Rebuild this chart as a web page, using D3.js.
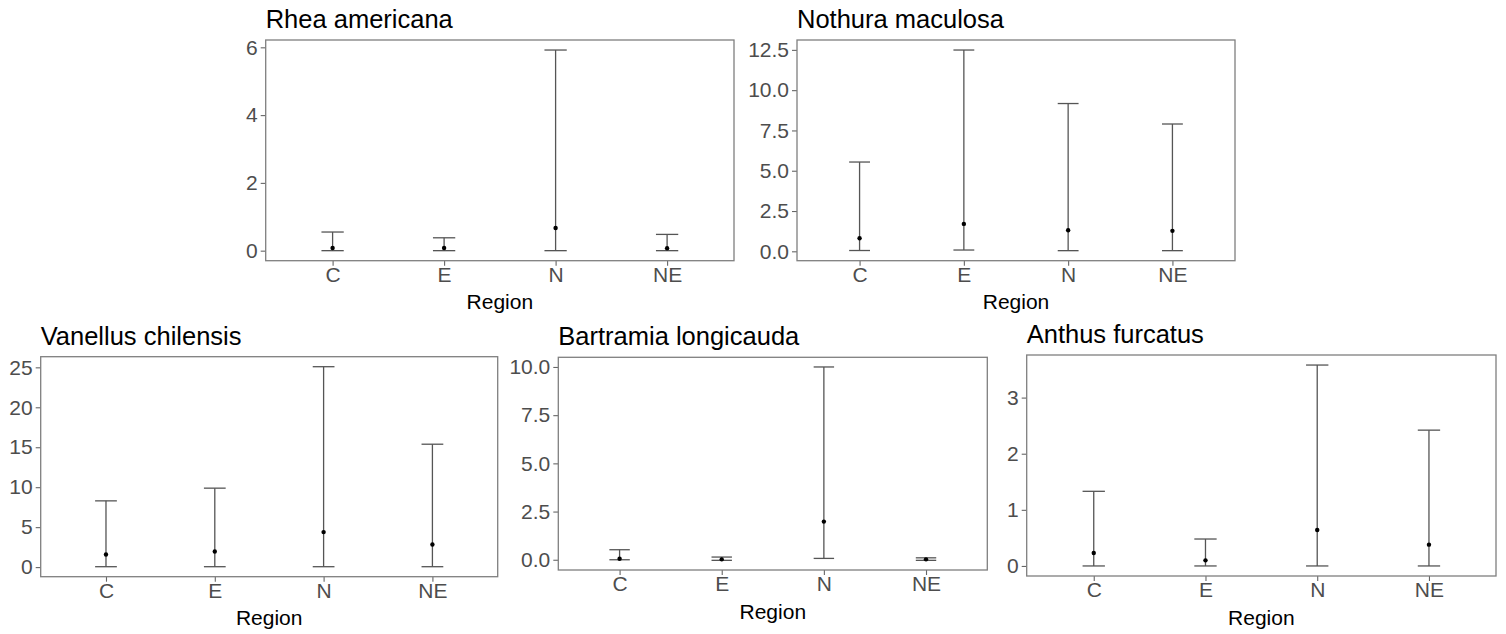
<!DOCTYPE html>
<html>
<head>
<meta charset="utf-8">
<script src="https://cdn.jsdelivr.net/npm/d3@7"></script>
<style>
  body { margin: 0; background: #fff; }
  text { font-family: "Liberation Sans", Arial, sans-serif; }
</style>
</head>
<body>
<div id="chart"></div>
<script>
// regions on the x axis
var regions = ["C", "E", "N", "NE"];

// mean and interval per species
var rheaMean  = [0.08, 0.08, 0.67, 0.07];
var rheaLow   = [0.00, 0.00, 0.00, 0.00];
var rheaHigh  = [0.55, 0.38, 5.92, 0.48];
var rheaTicks = [0, 2, 4, 6];

var nothuraMean  = [0.81, 1.70, 1.31, 1.27];
var nothuraLow   = [0.05, 0.08, 0.04, 0.04];
var nothuraHigh  = [5.54, 12.49, 9.17, 7.90];
var nothuraTicks = [0, 2.5, 5, 7.5, 10, 12.5];

var vanellusMean  = [1.58, 1.96, 4.38, 2.83];
var vanellusLow   = [0.05, 0.05, 0.05, 0.05];
var vanellusHigh  = [8.29, 9.88, 25.08, 15.38];
var vanellusTicks = [0, 5, 10, 15, 20, 25];

var bartramiaMean  = [0.05, 0.02, 1.98, 0.02];
var bartramiaLow   = [0.00, -0.03, 0.07, -0.03];
var bartramiaHigh  = [0.52, 0.14, 10.0, 0.10];
var bartramiaTicks = [0, 2.5, 5, 7.5, 10];

var anthusMean  = [0.23, 0.10, 0.64, 0.38];
var anthusLow   = [0.00, 0.00, 0.00, 0.00];
var anthusHigh  = [1.33, 0.48, 3.58, 2.42];
var anthusTicks = [0, 1, 2, 3];

var svgWidth = 1506;
var svgHeight = 634;

var svg = d3.select("#chart")
  .append("svg")
  .attr("width", svgWidth)
  .attr("height", svgHeight);

svg.append("rect")
  .attr("width", svgWidth)
  .attr("height", svgHeight)
  .attr("fill", "#fff");

// panel boxes (plot area) and y label format
var panels = [
  { title: "Rhea americana", mean: rheaMean, low: rheaLow, high: rheaHigh, ticks: rheaTicks, fmt: "d",
    left: 265.7, right: 734, top: 40, bottom: 260.7 },
  { title: "Nothura maculosa", mean: nothuraMean, low: nothuraLow, high: nothuraHigh, ticks: nothuraTicks, fmt: ".1f",
    left: 797, right: 1235, top: 40, bottom: 260.7 },
  { title: "Vanellus chilensis", mean: vanellusMean, low: vanellusLow, high: vanellusHigh, ticks: vanellusTicks, fmt: "d",
    left: 40.7, right: 497.7, top: 356.7, bottom: 576.7 },
  { title: "Bartramia longicauda", mean: bartramiaMean, low: bartramiaLow, high: bartramiaHigh, ticks: bartramiaTicks, fmt: ".1f",
    left: 558.3, right: 987.3, top: 357.3, bottom: 570 },
  { title: "Anthus furcatus", mean: anthusMean, low: anthusLow, high: anthusHigh, ticks: anthusTicks, fmt: "d",
    left: 1026.7, right: 1496, top: 355, bottom: 576 }
];

panels.forEach(function(p) {
  var g = svg.append("g");

  var rows = regions.map(function(r, i) {
    return { region: r, mean: p.mean[i], low: p.low[i], high: p.high[i] };
  });

  // ggplot-like 5% expansion
  var lo = d3.min(rows, d => d.low);
  var hi = d3.max(rows, d => d.high);
  var pad = (hi - lo) * 0.05;

  var yScale = d3.scaleLinear()
    .domain([lo - pad, hi + pad])
    .range([p.bottom, p.top]);

  var xScale = d3.scalePoint()
    .domain(regions)
    .range([p.left, p.right])
    .padding(0.6);

  var capHalf = xScale.step() * 0.1;

  // axes
  var yAxis = g.append("g")
    .attr("transform", `translate(${p.left}, 0)`)
    .call(d3.axisLeft(yScale).tickValues(p.ticks).tickFormat(d3.format(p.fmt)).tickSize(5).tickPadding(3));

  var xAxis = g.append("g")
    .attr("transform", `translate(0, ${p.bottom})`)
    .call(d3.axisBottom(xScale).tickSize(5).tickPadding(4));

  [yAxis, xAxis].forEach(function(ax) {
    ax.select(".domain").remove();
    ax.selectAll("line").attr("stroke", "#666").attr("stroke-width", 1.1);
    ax.selectAll("text")
      .attr("fill", "#4d4d4d")
      .attr("font-size", "21px")
      .style("font-family", "'Liberation Sans', Arial, sans-serif");
  });
  xAxis.selectAll("text").attr("dy", "0.71em").attr("y", 6);

  // panel border
  g.append("rect")
    .attr("x", p.left)
    .attr("y", p.top)
    .attr("width", p.right - p.left)
    .attr("height", p.bottom - p.top)
    .attr("fill", "none")
    .attr("stroke", "#7f7f7f")
    .attr("stroke-width", 1.3);

  // error bars
  var bars = g.selectAll(".bar").data(rows).enter().append("g");

  bars.append("line")
    .attr("x1", d => xScale(d.region))
    .attr("x2", d => xScale(d.region))
    .attr("y1", d => yScale(d.low))
    .attr("y2", d => yScale(d.high))
    .attr("stroke", "#555")
    .attr("stroke-width", 1.3);

  bars.append("line")
    .attr("x1", d => xScale(d.region) - capHalf)
    .attr("x2", d => xScale(d.region) + capHalf)
    .attr("y1", d => yScale(d.high))
    .attr("y2", d => yScale(d.high))
    .attr("stroke", "#555")
    .attr("stroke-width", 1.3);

  bars.append("line")
    .attr("x1", d => xScale(d.region) - capHalf)
    .attr("x2", d => xScale(d.region) + capHalf)
    .attr("y1", d => yScale(d.low))
    .attr("y2", d => yScale(d.low))
    .attr("stroke", "#555")
    .attr("stroke-width", 1.3);

  bars.append("circle")
    .attr("cx", d => xScale(d.region))
    .attr("cy", d => yScale(d.mean))
    .attr("r", 2.2)
    .attr("fill", "#000");

  // title
  g.append("text")
    .attr("x", p.left)
    .attr("y", p.top - 12)
    .attr("font-size", "25.5px")
    .attr("fill", "#000")
    .text(p.title);

  // x axis label
  g.append("text")
    .attr("x", (p.left + p.right) / 2)
    .attr("y", p.bottom + 48.5)
    .attr("text-anchor", "middle")
    .attr("font-size", "21px")
    .attr("fill", "#000")
    .text("Region");
});
</script>
</body>
</html>
